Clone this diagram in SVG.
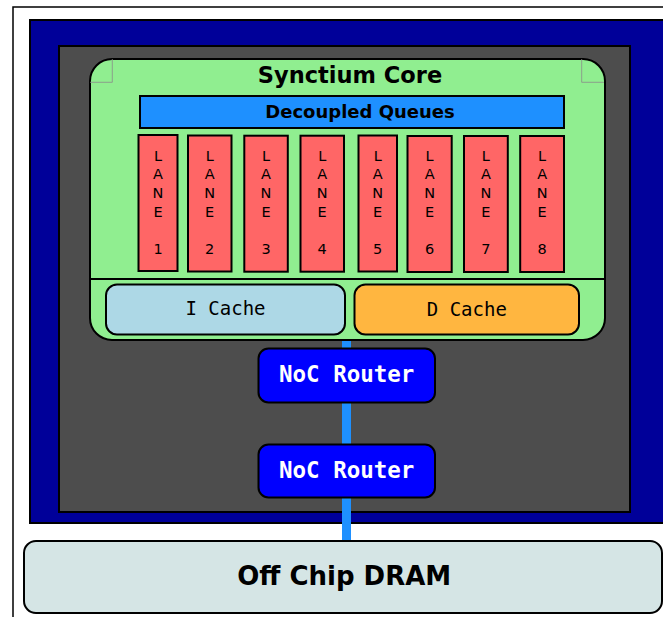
<svg xmlns="http://www.w3.org/2000/svg" width="663" height="617" viewBox="0 0 663 617">
<style>
.lane{fill:#ff6666;stroke:#000;stroke-width:2}
.lt{font-family:"DejaVu Sans",sans-serif;font-size:14.5px;fill:#000;text-anchor:middle}
.cache{stroke:#000;stroke-width:2}
.ct{font-family:"DejaVu Sans Mono",monospace;font-size:19px;fill:#000;text-anchor:middle}
.router{fill:#0000ff;stroke:#000;stroke-width:2}
.rt{font-family:"DejaVu Sans Mono",monospace;font-weight:bold;font-size:22.5px;fill:#fff;text-anchor:middle}
.bt{font-family:"DejaVu Sans",sans-serif;font-weight:bold;fill:#000;text-anchor:middle}
.art{stroke:#8a8a8a;stroke-width:0.8;fill:none}
</style>
<rect x="13" y="7" width="700" height="640" fill="#fff" stroke="#000" stroke-width="1.5"/>
<g id="chip">
<rect x="30" y="20" width="700" height="503" fill="#000099" stroke="#000" stroke-width="2"/>
<rect x="59" y="46" width="571" height="466" fill="#4d4d4d" stroke="#000" stroke-width="2"/>
</g>
<g id="connectors">
<line x1="346.5" y1="335" x2="346.5" y2="545" stroke="#1e90ff" stroke-width="9"/>
</g>
<g id="core">
<rect x="90" y="59" width="515" height="281" rx="22" fill="#90ee90" stroke="#000" stroke-width="2"/>
<path class="art" d="M112.3 59V82.3H90M581.7 59V82.3H604"/>
<line x1="90" y1="279" x2="605" y2="279" stroke="#000" stroke-width="2"/>
<text class="bt" x="350" y="83" font-size="22.5">Synctium Core</text>
</g>
<g id="queues">
<rect x="140" y="96" width="424" height="32" fill="#1e90ff" stroke="#000" stroke-width="2"/>
<text class="bt" x="360" y="118" font-size="18">Decoupled Queues</text>
</g>
<g id="lane1"><rect class="lane" x="138.5" y="135" width="39" height="136"/><text class="lt" x="158" y="160.7">L</text><text class="lt" x="158" y="179.3">A</text><text class="lt" x="158" y="198">N</text><text class="lt" x="158" y="216.6">E</text><text class="lt" x="158" y="253.8">1</text></g>
<g id="lane2"><rect class="lane" x="188" y="135.5" width="43.5" height="136"/><text class="lt" x="209.7" y="160.7">L</text><text class="lt" x="209.7" y="179.3">A</text><text class="lt" x="209.7" y="198">N</text><text class="lt" x="209.7" y="216.6">E</text><text class="lt" x="209.7" y="253.8">2</text></g>
<g id="lane3"><rect class="lane" x="244.3" y="135.7" width="43.5" height="136"/><text class="lt" x="266" y="160.7">L</text><text class="lt" x="266" y="179.3">A</text><text class="lt" x="266" y="198">N</text><text class="lt" x="266" y="216.6">E</text><text class="lt" x="266" y="253.8">3</text></g>
<g id="lane4"><rect class="lane" x="300.5" y="135.7" width="43.5" height="136"/><text class="lt" x="322.2" y="160.7">L</text><text class="lt" x="322.2" y="179.3">A</text><text class="lt" x="322.2" y="198">N</text><text class="lt" x="322.2" y="216.6">E</text><text class="lt" x="322.2" y="253.8">4</text></g>
<g id="lane5"><rect class="lane" x="358.5" y="135.5" width="38.5" height="136"/><text class="lt" x="377.7" y="160.7">L</text><text class="lt" x="377.7" y="179.3">A</text><text class="lt" x="377.7" y="198">N</text><text class="lt" x="377.7" y="216.6">E</text><text class="lt" x="377.7" y="253.8">5</text></g>
<g id="lane6"><rect class="lane" x="407.5" y="136" width="44.2" height="136"/><text class="lt" x="429.6" y="160.7">L</text><text class="lt" x="429.6" y="179.3">A</text><text class="lt" x="429.6" y="198">N</text><text class="lt" x="429.6" y="216.6">E</text><text class="lt" x="429.6" y="253.8">6</text></g>
<g id="lane7"><rect class="lane" x="464" y="136" width="43.8" height="136"/><text class="lt" x="485.9" y="160.7">L</text><text class="lt" x="485.9" y="179.3">A</text><text class="lt" x="485.9" y="198">N</text><text class="lt" x="485.9" y="216.6">E</text><text class="lt" x="485.9" y="253.8">7</text></g>
<g id="lane8"><rect class="lane" x="520.2" y="136" width="43.8" height="136"/><text class="lt" x="542.1" y="160.7">L</text><text class="lt" x="542.1" y="179.3">A</text><text class="lt" x="542.1" y="198">N</text><text class="lt" x="542.1" y="216.6">E</text><text class="lt" x="542.1" y="253.8">8</text></g>
<g id="icache"><rect class="cache" x="106" y="284.5" width="239" height="50" rx="11" fill="#add8e6"/><text class="ct" x="225.5" y="315.3">I Cache</text></g>
<g id="dcache"><rect class="cache" x="354.5" y="284.5" width="224.5" height="50" rx="11" fill="#ffb640"/><text class="ct" x="466.8" y="315.7">D Cache</text></g>
<g id="router1"><rect class="router" x="258.5" y="348.5" width="176.5" height="54" rx="10"/><text class="rt" x="346.7" y="381.7">NoC Router</text></g>
<g id="router2"><rect class="router" x="258.5" y="444.5" width="176.5" height="53" rx="10"/><text class="rt" x="346.7" y="477.7">NoC Router</text></g>
<g id="dram"><rect x="24" y="541" width="638" height="72" rx="12" fill="#d5e5e5" stroke="#000" stroke-width="2"/><text class="bt" x="344.2" y="585" font-size="26">Off Chip DRAM</text></g>
</svg>
